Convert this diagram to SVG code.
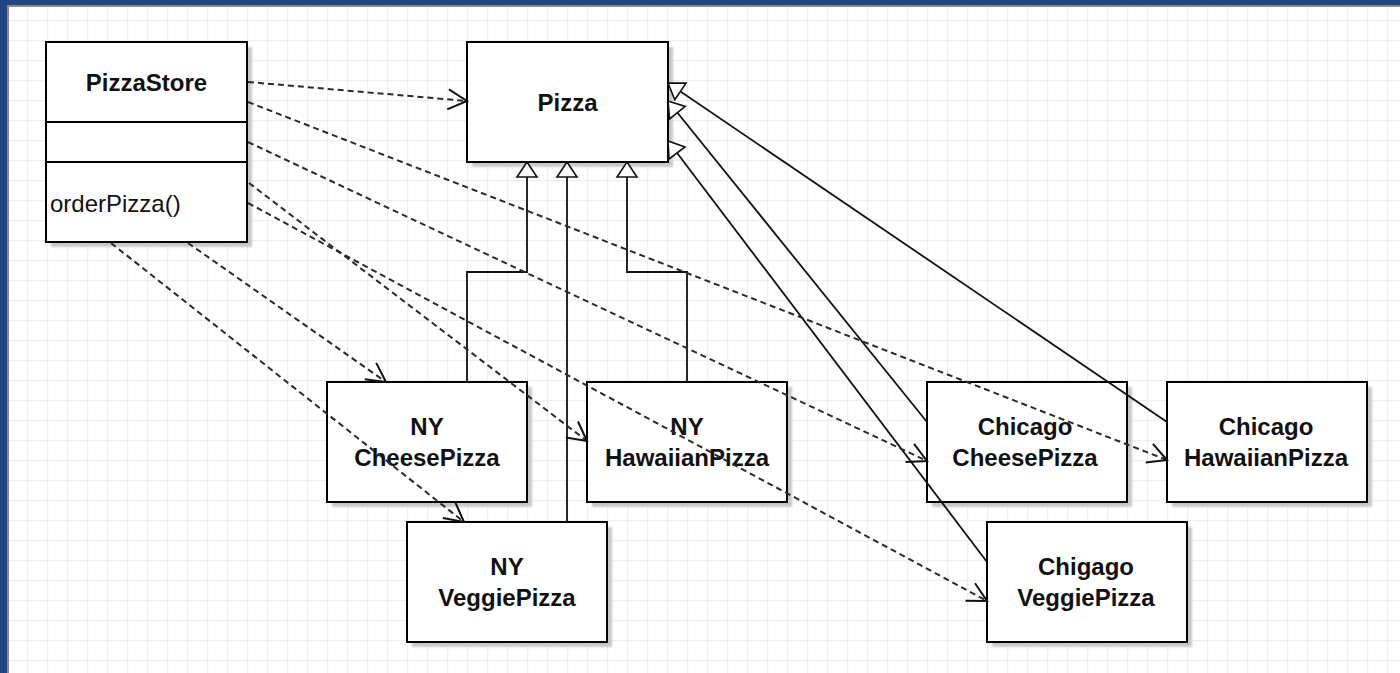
<svg xmlns="http://www.w3.org/2000/svg" width="1400" height="673" viewBox="0 0 1400 673">
  <style>
    .box { fill: #ffffff; stroke: #000000; stroke-width: 2; }
    .shadow { fill: #c8c8c8; filter: url(#soft); }
    .title { font-family: "Liberation Sans", Arial, sans-serif; font-size: 24px; font-weight: bold; fill: #111111; text-anchor: middle; }
    .member { font-family: "Liberation Sans", Arial, sans-serif; font-size: 24px; fill: #111111; }
    .dep { fill: none; stroke: #2a2a2a; stroke-width: 2; stroke-dasharray: 6 4; marker-end: url(#open); }
    .gen { fill: none; stroke: #111111; stroke-width: 1.8; marker-end: url(#tri); }
  </style>
  <defs>
    <pattern id="grid" patternUnits="userSpaceOnUse" x="7" y="0" width="20" height="20">
      <path d="M0,0.5 H20 M0.5,0 V20" fill="none" stroke="#efefef" stroke-width="1.5"/>
    </pattern>
    <filter id="soft" x="-10%" y="-10%" width="120%" height="120%">
      <feGaussianBlur stdDeviation="1"/>
    </filter>
    <!-- open arrowhead for dependencies -->
    <marker id="open" markerUnits="userSpaceOnUse" viewBox="0 0 22 22" refX="20" refY="11" markerWidth="22" markerHeight="22" orient="auto">
      <path d="M1,1 L20,11 L1,21" fill="none" stroke="#111111" stroke-width="2" stroke-dasharray="none"/>
    </marker>
    <!-- hollow triangle for generalization -->
    <marker id="tri" markerUnits="userSpaceOnUse" viewBox="0 0 18 24" refX="16.5" refY="12" markerWidth="18" markerHeight="24" orient="auto">
      <path d="M1.5,2 L16.5,12 L1.5,22 Z" fill="#ffffff" stroke="#111111" stroke-width="1.6"/>
    </marker>
  </defs>

  <!-- window frame and canvas -->
  <rect x="0" y="0" width="1400" height="673" fill="#1f4681"/>
  <rect x="7" y="5" width="1393" height="668" fill="#8a8a8a"/>
  <rect x="9" y="7" width="1391" height="666" fill="#ffffff"/>
  <rect x="9" y="7" width="1391" height="666" fill="url(#grid)"/>

  <g id="nodes">
    <g id="PizzaStore">
      <rect class="shadow" x="51" y="47" width="201" height="200"/>
      <rect class="box" x="46" y="42" width="201" height="200"/>
      <line x1="46" y1="122" x2="247" y2="122" stroke="#000" stroke-width="2"/>
      <line x1="46" y1="162" x2="247" y2="162" stroke="#000" stroke-width="2"/>
      <text class="title" x="146.5" y="91">PizzaStore</text>
      <text class="member" x="50" y="212">orderPizza()</text>
    </g>
    <g id="Pizza">
      <rect class="shadow" x="472" y="47" width="201" height="120"/>
      <rect class="box" x="467" y="42" width="201" height="120"/>
      <text class="title" x="567.5" y="111">Pizza</text>
    </g>
    <g id="NYCheesePizza">
      <rect class="shadow" x="332" y="387" width="200" height="120"/>
      <rect class="box" x="327" y="382" width="200" height="120"/>
      <text class="title" x="427" y="435">NY</text>
      <text class="title" x="427" y="466">CheesePizza</text>
    </g>
    <g id="NYHawaiianPizza">
      <rect class="shadow" x="592" y="387" width="200" height="120"/>
      <rect class="box" x="587" y="382" width="200" height="120"/>
      <text class="title" x="687" y="435">NY</text>
      <text class="title" x="687" y="466">HawaiianPizza</text>
    </g>
    <g id="NYVeggiePizza">
      <rect class="shadow" x="412" y="527" width="200" height="120"/>
      <rect class="box" x="407" y="522" width="200" height="120"/>
      <text class="title" x="507" y="575">NY</text>
      <text class="title" x="507" y="606">VeggiePizza</text>
    </g>
    <g id="ChicagoCheesePizza">
      <rect class="shadow" x="932" y="387" width="200" height="120"/>
      <rect class="box" x="927" y="382" width="200" height="120"/>
      <text class="title" x="1025" y="435">Chicago</text>
      <text class="title" x="1025" y="466">CheesePizza</text>
    </g>
    <g id="ChicagoHawaiianPizza">
      <rect class="shadow" x="1172" y="387" width="200" height="120"/>
      <rect class="box" x="1167" y="382" width="200" height="120"/>
      <text class="title" x="1266" y="435">Chicago</text>
      <text class="title" x="1266" y="466">HawaiianPizza</text>
    </g>
    <g id="ChigagoVeggiePizza">
      <rect class="shadow" x="992" y="527" width="200" height="120"/>
      <rect class="box" x="987" y="522" width="200" height="120"/>
      <text class="title" x="1086" y="575">Chigago</text>
      <text class="title" x="1086" y="606">VeggiePizza</text>
    </g>
  </g>

  <g id="connectors">
    <!-- generalization to Pizza -->
    <path class="gen" d="M467,382 V272 H527 V162"/>
    <path class="gen" d="M567,522 V162"/>
    <path class="gen" d="M687,382 V272 H627 V162"/>
    <path class="gen" d="M1167,422 L668,83"/>
    <path class="gen" d="M927,422 L668,101"/>
    <path class="gen" d="M987,562 L668,141"/>
    <!-- dependencies from PizzaStore -->
    <path class="dep" d="M248,82 L467,101"/>
    <path class="dep" d="M248,102 L1167,460"/>
    <path class="dep" d="M248,142 L927,461"/>
    <path class="dep" d="M249,183 L587,441"/>
    <path class="dep" d="M248,203 L987,601"/>
    <path class="dep" d="M188,243 L386,382"/>
    <path class="dep" d="M111,243 L464,522"/>
  </g>
</svg>
